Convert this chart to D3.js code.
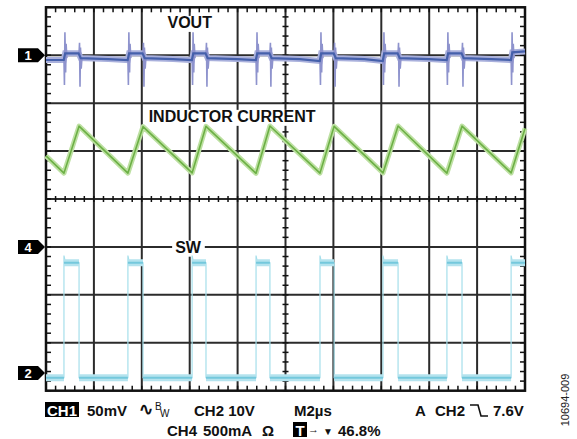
<!DOCTYPE html>
<html>
<head>
<meta charset="utf-8">
<script src="https://d3js.org/d3.v7.min.js"></script>
<style>
  body { margin: 0; background: #fff; }
  svg text { font-family: "Liberation Sans", Arial, sans-serif; }
</style>
</head>
<body>
<div id="chart"></div>
<script>
// ---- data (time in µs, 2 µs/div) ----
const tRise = [0.75, 3.42, 6.10, 8.77, 11.44, 14.07, 16.74, 19.42];
const tFall = [1.38, 4.05, 6.68, 9.35, 12.03, 14.70, 17.37];

// CH2 switch node, volts
const swHigh = 23, swLow = -1, swOvershoot = 24.5;

// CH4 inductor current, mA
const ilT  = [0, 0.75, 1.38, 3.42, 4.05, 6.10, 6.68, 8.77, 9.35, 11.44, 12.03, 14.07, 14.70, 16.74, 17.37, 19.42, 20];
const ilMa = [950, 770, 1260, 770, 1255, 772, 1258, 768, 1262, 770, 1258, 772, 1262, 770, 1260, 772, 1235];

// CH1 output ripple baseline, mV
const voutT  = [0, 0.74, 0.80, 1.36, 1.45, 2.6, 3.41, 3.47, 4.03, 4.12, 5.3, 6.09, 6.15, 6.66, 6.75, 8.0, 8.76, 8.82, 9.33, 9.42, 10.6, 11.43, 11.49, 12.01, 12.10, 13.3, 14.06, 14.12, 14.68, 14.77, 16.0, 16.73, 16.79, 17.35, 17.44, 18.6, 19.41, 19.47, 20];
const voutMv = [-5, -5, 2, 2, -3, -4, -5, 2, 2, -3, -4, -5, 2, 2, -3, -4, -5, 2, 2, -3, -4, -6, 2, 2, -3, -4, -6, 2, 2, -3, -4, -5, 2, 2, -3, -4, -5, 3, 4];
// ringing bursts at each switch edge: [dt µs, mV]
const ringRise = [[0, -4], [0.02, -31], [0.04, 24], [0.07, -18], [0.09, 12], [0.12, -3]];
const ringFall = [[0, 2], [0.02, 13], [0.04, -33], [0.06, 8], [0.09, -14], [0.12, -3]];

// channel settings: marker offset (div from centre) and units per div
const channels = [
  { id: "1", offset: 3.0,   perDiv: 50 },   // 50mV
  { id: "4", offset: -1.0,  perDiv: 500 },  // 500mA
  { id: "2", offset: -3.63, perDiv: 10 }    // 10V
];

const labels = [
  { text: "VOUT", t: 6.0, div: 3.69 },
  { text: "INDUCTOR CURRENT", t: 7.77, div: 1.73 },
  { text: "SW", t: 5.93, div: -1.0 }
];

// ---- drawing ----
const W = 577, H = 439;
const L = 46, R = 525, T = 7.3, B = 390.7;

const svg = d3.select("#chart").append("svg")
  .attr("width", W).attr("height", H)
  .style("display", "block");

svg.append("rect").attr("width", W).attr("height", H).attr("fill", "#fff");

const x = d3.scaleLinear().domain([0, 20]).range([L, R]);
const yDiv = d3.scaleLinear().domain([-4, 4]).range([B, T]);
const chY = (ch, v) => yDiv(ch.offset + v / ch.perDiv);
const [ch1, ch4, ch2] = channels;

const grid = svg.append("g");
const gridColor = "#2b2b2b";

// major gridlines
grid.selectAll(".vg").data(d3.range(2, 20, 2)).join("line")
  .attr("x1", d => x(d)).attr("x2", d => x(d))
  .attr("y1", T).attr("y2", B)
  .attr("stroke", gridColor).attr("stroke-width", 2);
grid.selectAll(".hg").data(d3.range(-3, 4)).join("line")
  .attr("x1", L).attr("x2", R)
  .attr("y1", d => yDiv(d)).attr("y2", d => yDiv(d))
  .attr("stroke", gridColor).attr("stroke-width", 2);

// minor ticks
const minorT = d3.range(0, 20.001, 0.4);
const minorV = d3.range(-4, 4.001, 0.2);
const tick = (data, f) => grid.selectAll(null).data(data).join("line").each(f)
  .attr("stroke", "#111").attr("stroke-width", 1.5);
tick(minorT, function(d) { d3.select(this).attr("x1", x(d)).attr("x2", x(d)).attr("y1", T).attr("y2", T + 5); });
tick(minorT, function(d) { d3.select(this).attr("x1", x(d)).attr("x2", x(d)).attr("y1", B - 5).attr("y2", B); });
tick(minorT, function(d) { d3.select(this).attr("x1", x(d)).attr("x2", x(d)).attr("y1", yDiv(0) - 3).attr("y2", yDiv(0) + 3); });
tick(minorV, function(d) { d3.select(this).attr("y1", yDiv(d)).attr("y2", yDiv(d)).attr("x1", L).attr("x2", L + 5); });
tick(minorV, function(d) { d3.select(this).attr("y1", yDiv(d)).attr("y2", yDiv(d)).attr("x1", R - 5).attr("x2", R); });
tick(minorV, function(d) { d3.select(this).attr("y1", yDiv(d)).attr("y2", yDiv(d)).attr("x1", x(10) - 3).attr("x2", x(10) + 3); });

// border
grid.append("rect").attr("x", L).attr("y", T).attr("width", R - L).attr("height", B - T)
  .attr("fill", "none").attr("stroke", "#111").attr("stroke-width", 2.5);

// trace labels on white boxes
const lab = svg.append("g");
labels.forEach(l => {
  const t = lab.append("text").text(l.text)
    .attr("x", x(l.t)).attr("y", yDiv(l.div)).attr("dy", "0.36em")
    .attr("text-anchor", "middle")
    .attr("font-size", 16).attr("font-weight", "bold").attr("fill", "#111");
  const bb = t.node().getBBox();
  lab.insert("rect", "text")
    .attr("x", bb.x - 3).attr("y", bb.y + 2).attr("width", bb.width + 6).attr("height", bb.height - 1)
    .attr("fill", "#fff");
});

const line = d3.line();

// ---- CH2 SW ----
const swG = svg.append("g");
const swPts = [[0, swLow]];
tRise.forEach((r, i) => {
  swPts.push([r, swLow], [r, swOvershoot], [r + 0.06, swHigh]);
  if (i < tFall.length) swPts.push([tFall[i], swHigh], [tFall[i], swLow]);
  else swPts.push([20, swHigh]);
});
swG.append("path")
  .attr("d", line(swPts.map(p => [x(p[0]), chY(ch2, p[1])])))
  .attr("fill", "none").attr("stroke", "#a6dfeb").attr("stroke-width", 1.2);
const lowSegs = [[0, tRise[0]]].concat(tFall.map((f, i) => [f, tRise[i + 1]]));
const highSegs = tRise.map((r, i) => [r, i < tFall.length ? tFall[i] : 20]);
[[lowSegs, swLow], [highSegs, swHigh]].forEach(([segs, v]) => {
  swG.selectAll(null).data(segs).join("line")
    .attr("x1", d => x(d[0])).attr("x2", d => x(d[1]))
    .attr("y1", chY(ch2, v)).attr("y2", chY(ch2, v))
    .attr("stroke", "#b4e3ee").attr("stroke-width", 7);
  swG.selectAll(null).data(segs).join("line")
    .attr("x1", d => x(d[0])).attr("x2", d => x(d[1]))
    .attr("y1", chY(ch2, v)).attr("y2", chY(ch2, v))
    .attr("stroke", "#74c8dc").attr("stroke-width", 2);
});

// ---- CH4 inductor current ----
const ilPath = line(ilT.map((t, i) => [x(t), chY(ch4, ilMa[i])]));
svg.append("path").attr("d", ilPath).attr("fill", "none")
  .attr("stroke", "#bde0a2").attr("stroke-width", 5).attr("stroke-linejoin", "round");
svg.append("path").attr("d", ilPath).attr("fill", "none")
  .attr("stroke", "#6cb045").attr("stroke-width", 1.6).attr("stroke-linejoin", "round");

// ---- CH1 VOUT ----
const vG = svg.append("g");
const ringPts = [];
tRise.forEach(r => ringPts.push(ringRise.map(p => [r + p[0], p[1]])));
tFall.forEach(f => ringPts.push(ringFall.map(p => [f + p[0], p[1]])));
const vPath = line(voutT.map((t, i) => [x(t), chY(ch1, voutMv[i])]));
vG.append("path").attr("d", vPath).attr("fill", "none")
  .attr("stroke", "#a9b0dc").attr("stroke-width", 6);
vG.selectAll(null).data(ringPts).join("path")
  .attr("d", d => line(d.map(p => [x(p[0]), chY(ch1, p[1])])))
  .attr("fill", "none").attr("stroke", "#8e93cd").attr("stroke-width", 1.6);
vG.append("path").attr("d", vPath).attr("fill", "none")
  .attr("stroke", "#4560ab").attr("stroke-width", 2.2);

// ---- channel markers ----
const mk = svg.append("g");
channels.forEach(ch => {
  const yc = yDiv(ch.offset);
  mk.append("path")
    .attr("d", `M18,${yc - 7}H38L45,${yc}L38,${yc + 7}H18Z`)
    .attr("fill", "#000");
  mk.append("text").text(ch.id)
    .attr("x", 28).attr("y", yc).attr("dy", "0.36em")
    .attr("text-anchor", "middle").attr("font-size", 13).attr("font-weight", "bold")
    .attr("fill", "#fff");
});

// ---- readout ----
const ro = svg.append("g").attr("font-size", 15).attr("font-weight", "bold").attr("fill", "#111");
const y1 = 416, y2 = 436;
ro.append("rect").attr("x", 45).attr("y", 402).attr("width", 34).attr("height", 15).attr("fill", "#000");
ro.append("text").text("CH1").attr("x", 47).attr("y", y1).attr("fill", "#fff");
ro.append("text").text("50mV").attr("x", 87).attr("y", y1);
ro.append("text").text("∿").attr("x", 139).attr("y", y1 - 1).attr("font-size", 17).attr("font-family", "DejaVu Sans");
ro.append("text").text("B").attr("x", 155).attr("y", y1 - 6).attr("font-size", 10).attr("font-weight", "normal");
ro.append("text").text("W").attr("x", 160).attr("y", y1 + 1).attr("font-size", 10).attr("font-weight", "normal");
ro.append("text").text("CH2 10V").attr("x", 194).attr("y", y1);
ro.append("text").text("M2µs").attr("x", 294).attr("y", y1);
ro.append("text").text("A").attr("x", 415).attr("y", y1);
ro.append("text").text("CH2").attr("x", 435).attr("y", y1);
ro.append("path").attr("d", `M470,${y1 - 11}H478L481,${y1}H488`)
  .attr("fill", "none").attr("stroke", "#111").attr("stroke-width", 1.6);
ro.append("text").text("7.6V").attr("x", 493).attr("y", y1);

ro.append("text").text("CH4").attr("x", 167).attr("y", y2);
ro.append("text").text("500mA").attr("x", 203).attr("y", y2);
ro.append("text").text("Ω").attr("x", 262).attr("y", y2);
ro.append("rect").attr("x", 293).attr("y", 422).attr("width", 14).attr("height", 15).attr("fill", "#000");
ro.append("text").text("T").attr("x", 300).attr("y", y2).attr("text-anchor", "middle").attr("fill", "#fff");
ro.append("text").text("→").attr("x", 308).attr("y", y2 - 3).attr("font-size", 11).attr("font-family", "DejaVu Sans");
ro.append("text").text("▼").attr("x", 323).attr("y", y2 - 1).attr("font-size", 10).attr("font-family", "DejaVu Sans");
ro.append("text").text("46.8%").attr("x", 338).attr("y", y2);

svg.append("text").text("10694-009")
  .attr("transform", "translate(569,400) rotate(-90)")
  .attr("text-anchor", "middle").attr("font-size", 11).attr("fill", "#222");
</script>
</body>
</html>
